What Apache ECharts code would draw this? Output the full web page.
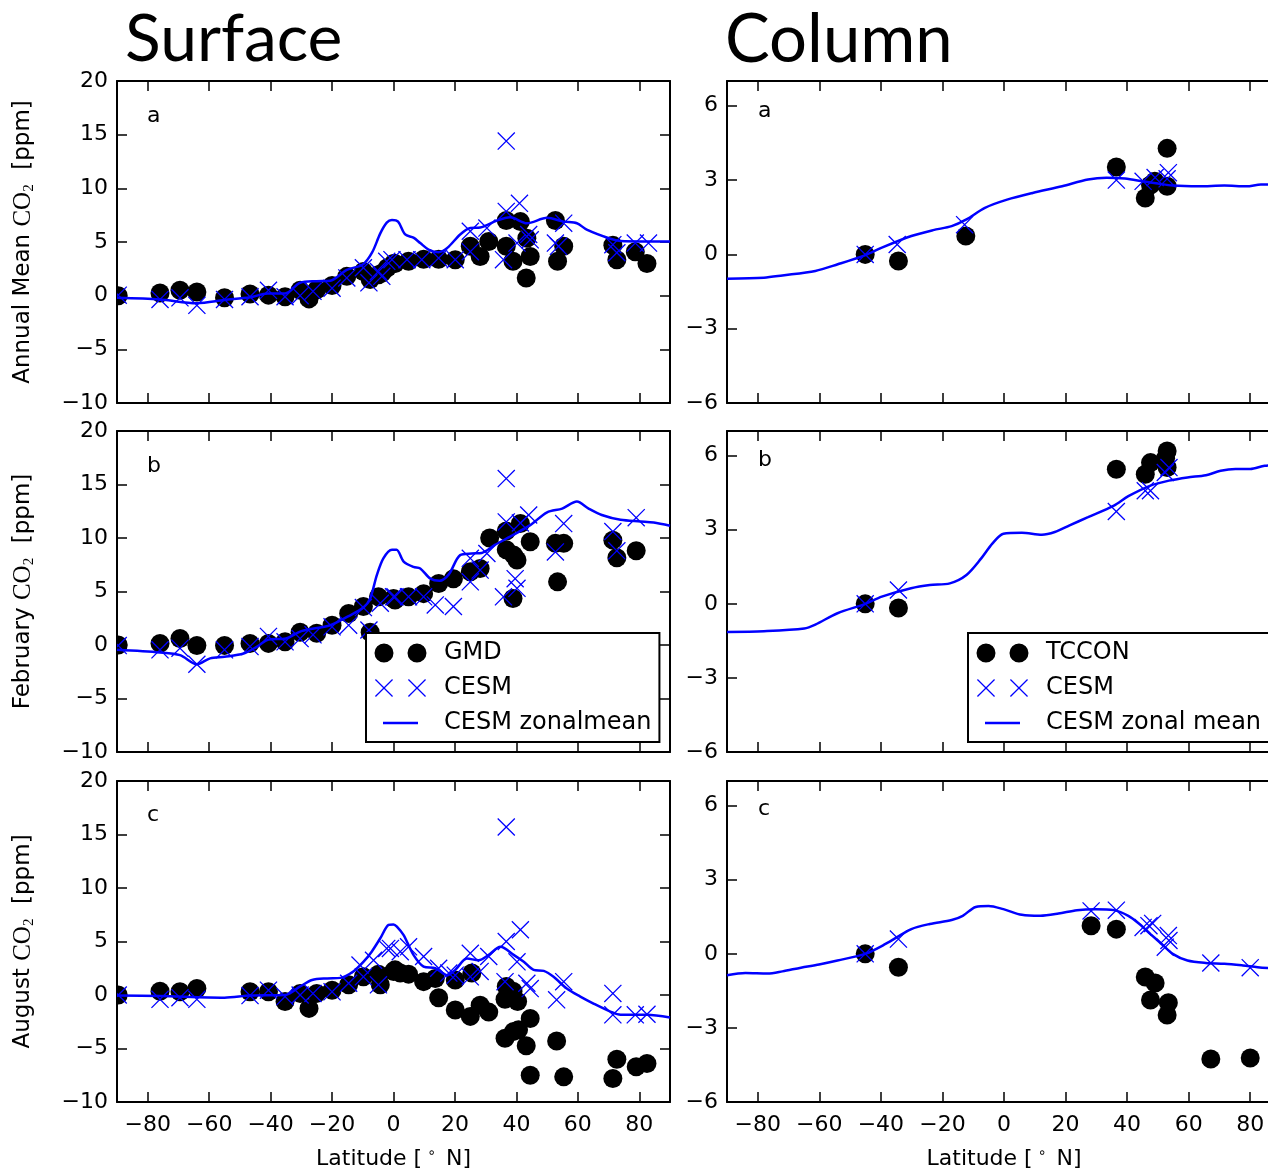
<!DOCTYPE html>
<html><head><meta charset="utf-8">
<script src="https://cdn.jsdelivr.net/npm/echarts@6/dist/echarts.min.js"></script>
<style>html,body{margin:0;padding:0;background:#fff}#c{width:1268px;height:1171px}</style>
</head><body><div id="c"></div>
<script>
// ---------- tick labels ----------
const latTicks = [-80, -60, -40, -20, 0, 20, 40, 60, 80];
const surfTicks = [-10, -5, 0, 5, 10, 15, 20];
const colTicks = [-6, -3, 0, 3, 6];

// ---------- Surface: annual mean ----------
const gmdAnnual = [[-89.6,0.0],[-76,0.25],[-69.5,0.5],[-64,0.35],[-55,-0.2],[-46.7,0.15],[-40.7,0.05],[-35.3,-0.1],[-30.4,0.5],[-27.5,-0.3],[-25,0.55],[-20,0.95],[-15.2,1.8],[-9.8,2.25],[-7.6,1.5],[-4.9,1.95],[-3.8,2.1],[-2,2.6],[0,3.0],[0.5,3.0],[4.9,3.2],[9.8,3.4],[14.7,3.4],[20.1,3.35],[25,4.6],[28.2,3.65],[31,5.05],[36.7,7.0],[41.3,6.9],[36.7,4.6],[38.9,3.2],[43.4,5.35],[44.5,3.65],[43.2,1.65],[52.7,7.0],[55.4,4.6],[53.4,3.2],[71.4,4.7],[72.7,3.35],[78.7,4.1],[82.5,3.0]];
const cesmAnnual = [[-89.6,0.05],[-76,-0.35],[-69.5,-0.2],[-64,-0.9],[-55,-0.35],[-46.7,-0.1],[-40.7,0.5],[-35.3,-0.1],[-30.4,0.0],[-26.2,0.4],[-20,0.7],[-15.2,1.65],[-9.8,2.6],[-8,1.2],[-4.9,2.25],[-3.8,1.8],[-2.2,3.2],[-0.5,3.35],[4.4,3.35],[9.2,3.35],[14.7,3.5],[20.1,3.35],[25,6.0],[25,4.1],[30.4,6.3],[36.7,14.4],[36.7,7.85],[35.8,3.35],[41,8.6],[40.2,4.9],[44,5.7],[44.5,5.2],[52.7,4.9],[55.4,6.75],[53.7,4.6],[71.4,4.75],[72.7,4.0],[78.7,4.9],[83,4.9]];
const zonalAnnual = [[-90,-0.2],[-76,-0.35],[-64,-0.7],[-55,-0.4],[-46.7,-0.15],[-41,0.2],[-35.3,0.2],[-30.4,1.2],[-25,1.35],[-20.6,1.4],[-15.2,2.4],[-10,2.9],[-7,4.0],[-4.3,5.8],[-2.2,6.8],[-0.5,7.05],[1.5,6.9],[3.8,5.7],[6.5,5.4],[8.7,4.9],[11.4,4.3],[14.7,4.05],[17.5,4.45],[21.7,5.7],[25,6.3],[28.2,6.35],[33.7,7.0],[38,7.3],[43.4,6.75],[50,7.25],[55.4,6.9],[59.7,6.75],[62.9,6.15],[70.6,5.3],[73.9,5.1],[90,5.05]];

// ---------- Surface: February ----------
const gmdFeb = [[-89.6,0.0],[-76,0.15],[-69.5,0.6],[-64,-0.05],[-55,-0.05],[-46.7,0.15],[-40.7,0.15],[-35.3,0.3],[-30.4,1.2],[-25,1.1],[-20,1.85],[-14.6,2.95],[-9.8,3.6],[-7.6,1.2],[-4.9,4.5],[0,4.35],[0.5,4.2],[4.9,4.5],[9.8,4.8],[14.7,5.75],[19.5,6.2],[25,6.85],[28.2,7.15],[31.3,10.0],[36.7,10.65],[36.7,8.9],[39.1,8.4],[40.2,7.95],[41.3,11.35],[38.9,4.35],[44.5,9.65],[52.7,9.5],[55.4,9.5],[53.4,5.9],[71.4,9.8],[72.7,8.15],[79,8.8]];
const cesmFeb = [[-89.6,-0.05],[-76,-0.45],[-69.5,-0.3],[-64,-1.8],[-55,-0.45],[-46.7,-0.15],[-40.7,0.8],[-35.3,0.3],[-30.4,0.6],[-26.2,0.95],[-20,1.7],[-14.6,1.85],[-9.8,3.5],[-8,1.4],[-4.3,3.9],[0,4.5],[0.5,4.5],[4.9,4.5],[9.8,4.5],[13.6,3.75],[19.5,3.6],[25,5.9],[25,8.1],[28.2,7.0],[30.4,8.55],[36.7,15.55],[36.7,11.5],[35.8,4.5],[39.6,6.2],[40.2,5.3],[41.3,11.4],[44,12.15],[52.7,8.7],[55.4,11.35],[71.4,10.6],[72.7,8.8],[79,11.9]];
const zonalFeb = [[-90,-0.45],[-76,-0.7],[-69.5,-0.95],[-64,-1.8],[-59.7,-1.25],[-55,-1.1],[-48.8,-0.8],[-44.4,-0.15],[-40.7,0.5],[-35,0.6],[-30,1.3],[-20.6,1.85],[-14.6,2.7],[-9.8,3.5],[-7.6,4.35],[-5.4,6.55],[-3.3,8.1],[-0.5,8.9],[1,8.9],[3.3,7.8],[6.5,7.3],[8.7,7.15],[12,6.2],[15,6.0],[18,6.6],[21.7,8.4],[25.5,8.55],[28.7,8.6],[33,9.35],[39,10.3],[44.5,11.2],[50,12.4],[54.9,12.75],[59.7,13.4],[63.5,12.75],[67.8,12.15],[73.9,11.7],[80.4,11.55],[84.7,11.45],[90,11.15]];

// ---------- Surface: August ----------
const gmdAug = [[-89.6,0.0],[-76,0.35],[-69.5,0.3],[-64,0.6],[-46.7,0.3],[-40.7,0.3],[-35.3,-0.6],[-30.4,0.15],[-27.5,-1.25],[-25,0.15],[-20,0.45],[-14.6,0.95],[-9.8,1.7],[-4.3,0.95],[-4.9,1.95],[0,2.2],[0.5,2.35],[2.2,2.05],[4.9,1.95],[9.8,1.25],[13.6,1.55],[14.7,-0.25],[20.1,1.4],[20.1,-1.4],[25,-2.0],[25.5,2.05],[28.2,-0.95],[31,-1.6],[36.7,0.8],[36.3,-0.4],[38.9,0.35],[40.4,-0.6],[36.3,-4.05],[39.1,-3.4],[40.7,-3.25],[44.5,-2.2],[43.2,-4.75],[44.5,-7.5],[53.1,-4.3],[55.4,-7.65],[72.7,-6.0],[71.4,-7.8],[79,-6.7],[82.5,-6.4]];
const cesmAug = [[-89.6,0.0],[-76,-0.4],[-69.5,-0.25],[-64,-0.4],[-46.7,-0.05],[-40.7,0.45],[-35.3,-0.15],[-30.4,0.0],[-26.2,0.15],[-20,0.3],[-14.6,1.1],[-10.9,2.8],[-9.8,1.7],[-4.9,0.95],[-6.5,3.25],[-2.2,4.35],[-1,4.35],[2.2,4.05],[4.9,4.5],[9.8,3.6],[14.7,2.5],[18,2.05],[20.1,1.85],[25,3.9],[25,1.7],[28.2,2.2],[31,3.6],[36.7,15.7],[36.7,5.0],[36.3,1.25],[41.3,6.1],[40.2,3.1],[43.4,1.1],[44.5,0.6],[55.4,1.25],[53.1,-0.45],[71.4,0.15],[71.4,-1.85],[78.7,-1.85],[82.5,-1.8]];
const zonalAug = [[-90,-0.05],[-76,-0.1],[-55,-0.25],[-46.7,-0.05],[-35.3,0],[-30.4,0.8],[-26.5,1.4],[-21.6,1.55],[-17.2,1.6],[-13.1,2.2],[-9.8,3.1],[-7.1,4.05],[-4.3,5.3],[-1.6,6.55],[0,6.6],[1.1,6.4],[3.3,5.6],[6.5,3.75],[9.8,2.65],[13.6,2.5],[17.5,1.85],[20.1,2.35],[23.9,3.4],[27.7,3.25],[31,3.75],[34.8,4.5],[39.1,3.75],[42.4,3.1],[45.6,2.35],[48.9,2.25],[52.1,1.7],[56.4,0.6],[60.8,-0.15],[65.1,-0.8],[70.6,-1.55],[73.9,-1.85],[82.5,-1.85],[90,-2.1]];

// ---------- Column: annual mean ----------
const tcconAnnual = [[-45.1,0],[-34.3,-0.27],[-12.4,0.74],[36.5,3.53],[45.9,2.28],[47.6,2.8],[49,2.95],[53,4.28],[53,2.75]];
const cesmColAnnual = [[-45.1,0],[-34.7,0.4],[-12.8,1.2],[36.5,3.0],[45.2,2.95],[49.1,3.1],[53,3.05],[53.4,3.3]];
const zonalColAnnual = [[-90,-0.98],[-78,-0.94],[-72,-0.85],[-61.3,-0.67],[-54,-0.4],[-45,-0.03],[-39.7,0.27],[-30.1,0.74],[-23,0.98],[-17,1.14],[-12.2,1.41],[-6.2,1.88],[1,2.21],[9.3,2.48],[18.9,2.75],[27.3,3.02],[33.3,3.09],[39.3,3.06],[45.2,2.95],[50,2.86],[54.8,2.78],[63.2,2.75],[71.6,2.78],[78.8,2.75],[83.5,2.82],[90,2.82]];

// ---------- Column: February ----------
const tcconFeb = [[-45.1,0],[-34.3,-0.17],[36.5,5.45],[45.9,5.25],[47.6,5.72],[53,6.19],[52.5,5.9],[53,5.52]];
const cesmColFeb = [[-45.1,0],[-34.3,0.56],[36.5,3.74],[45.9,4.58],[47.6,4.58],[52.4,5.32],[53.6,5.52]];
const zonalColFeb = [[-90,-1.14],[-78,-1.11],[-64.9,-1.0],[-61.3,-0.84],[-54.1,-0.38],[-45,0],[-39.7,0.29],[-30.2,0.63],[-24.1,0.76],[-17.6,0.83],[-12.2,1.17],[-7.4,1.84],[-3.8,2.44],[-0.2,2.84],[5.8,2.88],[12.3,2.8],[16.5,2.91],[21.3,3.18],[27.3,3.51],[35.7,3.98],[40.4,4.36],[47.6,4.79],[53.6,4.99],[59.6,5.12],[65.6,5.21],[70.4,5.39],[75.2,5.46],[80,5.46],[84.7,5.59],[90,5.62]];

// ---------- Column: August ----------
const tcconAug = [[-45.1,0],[-34.3,-0.54],[28.3,1.14],[36.5,1.0],[45.9,-0.94],[49.1,-1.18],[47.6,-1.87],[53.4,-1.98],[53,-2.48],[67.2,-4.26],[80,-4.22]];
const cesmColAug = [[-45.1,0],[-34.3,0.6],[28.3,1.74],[36.5,1.77],[45.2,1.07],[47.1,1.14],[48.3,1.23],[52.4,0.27],[53.4,0.74],[53.6,0.54],[67.2,-0.37],[80,-0.56]];
const zonalColAug = [[-90,-0.87],[-84,-0.78],[-76.8,-0.8],[-72,-0.71],[-66,-0.56],[-60.1,-0.43],[-54.1,-0.27],[-45.1,0],[-38.5,0.4],[-30.1,1.0],[-24.1,1.21],[-17,1.37],[-13.4,1.54],[-9.2,1.9],[-5,1.94],[-0.2,1.81],[5.8,1.58],[11.8,1.54],[17.7,1.63],[23.7,1.77],[29.7,1.81],[35.7,1.77],[40.4,1.54],[44,1.21],[47.6,0.8],[51.2,0.4],[54.8,0],[59.6,-0.27],[65.6,-0.37],[71.6,-0.4],[77.6,-0.47],[82.4,-0.54],[90,-0.62]];

// ---------- helpers ----------
function minus(v) { return v < 0 ? '\u2212' + Math.abs(v) : String(v); }
function crossAt(cx, cy, h, t) {
  const a = cx - h, b = cy - h, c = cx + h, d = cy + h;
  return `M${a},${b+t} L${a+t},${b} L${c},${d-t} L${c-t},${d} Z M${c-t},${b} L${c},${b+t} L${a+t},${d} L${a},${d-t} Z `;
}
function circleAt(cx, cy, r) {
  return `M${cx-r},${cy} a${r},${r} 0 1,0 ${2*r},0 a${r},${r} 0 1,0 ${-2*r},0 Z `;
}
const BOX = 'M0,0 L0.01,0 Z M71,22 L71.01,22 Z ';
const crossPath = crossAt(5, 5, 5, 0.5);
const dotsIcon = 'path://' + BOX + circleAt(16, 11, 9.5) + circleAt(49, 11, 9.5);
const crossIcon = 'path://' + BOX + crossAt(16, 11, 9, 0.9) + crossAt(49, 11, 9, 0.9);
const lineIcon = 'path://' + BOX + 'M15,9.8 L50,9.8 L50,12.2 L15,12.2 Z';

const BLUE = '#0000ff';
const FONT = 'DejaVu Sans';
const cols = [{left: 117, width: 553}, {left: 727, width: 554}];
const rows = [{top: 81, height: 322}, {top: 431, height: 321}, {top: 781, height: 321}];

function renderDot(params, api) {
  const p = api.coord([api.value(0), api.value(1)]);
  return {type: 'circle', shape: {cx: p[0], cy: p[1], r: 9.5}, style: {fill: '#000'}};
}
function renderCross(params, api) {
  const p = api.coord([api.value(0), api.value(1)]);
  return {type: 'path', shape: {pathData: crossPath, x: p[0] - 9, y: p[1] - 9, width: 18, height: 18}, style: {fill: BLUE}};
}

const grids = [], xAxes = [], yAxes = [], series = [];
const panels = [
  {c: 0, r: 0, dots: gmdAnnual, cross: cesmAnnual, line: zonalAnnual, dn: 'GMD', ln: 'CESM zonalmean', yname: 'Annual Mean '},
  {c: 0, r: 1, dots: gmdFeb, cross: cesmFeb, line: zonalFeb, dn: 'GMD', ln: 'CESM zonalmean', yname: 'February '},
  {c: 0, r: 2, dots: gmdAug, cross: cesmAug, line: zonalAug, dn: 'GMD', ln: 'CESM zonalmean', yname: 'August '},
  {c: 1, r: 0, dots: tcconAnnual, cross: cesmColAnnual, line: zonalColAnnual, dn: 'TCCON', ln: 'CESM zonal mean'},
  {c: 1, r: 1, dots: tcconFeb, cross: cesmColFeb, line: zonalColFeb, dn: 'TCCON', ln: 'CESM zonal mean'},
  {c: 1, r: 2, dots: tcconAug, cross: cesmColAug, line: zonalColAug, dn: 'TCCON', ln: 'CESM zonal mean'}
];

const axLine = {show: true, onZero: false, lineStyle: {color: '#000', width: 2}};
const tickStyle = {color: '#000', width: 1.5};

panels.forEach((p, gi) => {
  grids.push({left: cols[p.c].left, width: cols[p.c].width, top: rows[p.r].top, height: rows[p.r].height, outerBoundsMode: 'none', containLabel: false});
  const bottomRow = p.r === 2;
  const xName = bottomRow ? '{t|Latitude [}{sup|\u2218}{t| N]}' : '';
  xAxes.push({
    type: 'value', gridIndex: gi, min: -90, max: 90, position: 'bottom',
    axisLine: axLine, splitLine: {show: false},
    axisTick: {show: true, inside: true, length: 10, customValues: latTicks, lineStyle: tickStyle},
    axisLabel: {show: bottomRow, customValues: latTicks, formatter: minus, color: '#000', fontFamily: FONT, fontSize: 22, margin: 12},
    name: xName, nameLocation: 'middle', nameGap: 44,
    nameTextStyle: {color: '#000', fontFamily: FONT, fontSize: 22,
      rich: {t: {fontFamily: FONT, fontSize: 22, color: '#000', lineHeight: 26, verticalAlign: 'middle'},
             sup: {fontFamily: FONT, fontSize: 14, color: '#000', lineHeight: 14, verticalAlign: 'top', padding: [0, 3, 0, 5]}}}
  });
  xAxes.push({
    type: 'value', gridIndex: gi, min: -90, max: 90, position: 'top',
    axisLine: axLine, splitLine: {show: false},
    axisTick: {show: true, inside: true, length: 10, customValues: latTicks, lineStyle: tickStyle},
    axisLabel: {show: false}
  });
  const yt = p.c === 0 ? surfTicks : colTicks;
  const ymin = p.c === 0 ? -10 : -6, ymax = p.c === 0 ? 20 : 7;
  yAxes.push({
    type: 'value', gridIndex: gi, min: ymin, max: ymax, position: 'left',
    axisLine: axLine, splitLine: {show: false},
    axisTick: {show: true, inside: true, length: 10, customValues: yt, lineStyle: tickStyle},
    axisLabel: {show: true, customValues: yt, formatter: minus, color: '#000', fontFamily: FONT, fontSize: 22, margin: 9},
    name: p.yname ? `{t|${p.yname}}{m|CO}{s|2}{t|  [ppm]}` : '',
    nameLocation: 'middle', nameRotate: 90, nameGap: 80,
    nameTextStyle: {color: '#000', fontFamily: FONT, fontSize: 23,
      rich: {t: {fontFamily: FONT, fontSize: 23, color: '#000', lineHeight: 28, verticalAlign: 'middle'},
             m: {fontFamily: 'Liberation Serif', fontSize: 25, color: '#000', lineHeight: 28, verticalAlign: 'middle'},
             s: {fontFamily: 'Liberation Serif', fontSize: 15, color: '#000', lineHeight: 18, verticalAlign: 'bottom'}}}
  });
  yAxes.push({
    type: 'value', gridIndex: gi, min: ymin, max: ymax, position: 'right',
    axisLine: axLine, splitLine: {show: false},
    axisTick: {show: true, inside: true, length: 10, customValues: yt, lineStyle: tickStyle},
    axisLabel: {show: false}
  });
  const xi = 2 * gi, yi = 2 * gi;
  series.push({type: 'custom', name: p.dn, xAxisIndex: xi, yAxisIndex: yi, data: p.dots,
    renderItem: renderDot, clip: true, color: '#000', itemStyle: {color: '#000'}, encode: {x: 0, y: 1}, z: 2, silent: true});
  series.push({type: 'custom', name: 'CESM', xAxisIndex: xi, yAxisIndex: yi, data: p.cross,
    renderItem: renderCross, clip: true, color: BLUE, itemStyle: {color: BLUE}, encode: {x: 0, y: 1}, z: 3, silent: true});
  series.push({type: 'line', name: p.ln, xAxisIndex: xi, yAxisIndex: yi, data: p.line,
    smooth: 0.3, symbol: 'none', color: BLUE, lineStyle: {color: BLUE, width: 2.5}, itemStyle: {color: BLUE}, z: 4, silent: true});
});

function legendAt(left, names) {
  return {
    left: left, top: 633, orient: 'vertical', padding: [8, 8, 7, 2], itemGap: 11,
    itemWidth: 71, itemHeight: 22, symbolKeepAspect: true, selectedMode: false,
    backgroundColor: '#fff', borderColor: '#000', borderWidth: 2, borderRadius: 0, z: 20,
    textStyle: {fontFamily: FONT, fontSize: 24, color: '#000'},
    data: [{name: names[0], icon: dotsIcon}, {name: 'CESM', icon: crossIcon}, {name: names[1], icon: lineIcon}]
  };
}

const letters = [
  {t: 'a', x: 147, y: 116}, {t: 'b', x: 147, y: 466}, {t: 'c', x: 147, y: 815},
  {t: 'a', x: 758, y: 111}, {t: 'b', x: 758, y: 460}, {t: 'c', x: 758, y: 809}
];

const option = {
  animation: false,
  backgroundColor: '#fff',
  title: [
    {text: 'Surface', left: 125, top: 7, padding: 0, textStyle: {fontFamily: 'Lato', fontSize: 66, fontWeight: 'normal', color: '#000'}},
    {text: 'Column', left: 725, top: 7, padding: 0, textStyle: {fontFamily: 'Lato', fontSize: 67, fontWeight: 'normal', color: '#000'}}
  ],
  legend: [legendAt(366, ['GMD', 'CESM zonalmean']), legendAt(968, ['TCCON', 'CESM zonal mean'])],
  grid: grids, xAxis: xAxes, yAxis: yAxes, series: series,
  graphic: letters.map(l => ({type: 'text', x: l.x, y: l.y, z: 30,
    style: {text: l.t, font: `22px "${FONT}"`, fill: '#000', verticalAlign: 'middle', align: 'left'}}))
};

const chart = echarts.init(document.getElementById('c'), null, {renderer: 'canvas', width: 1268, height: 1171});
chart.setOption(option);
</script>
</body></html>
